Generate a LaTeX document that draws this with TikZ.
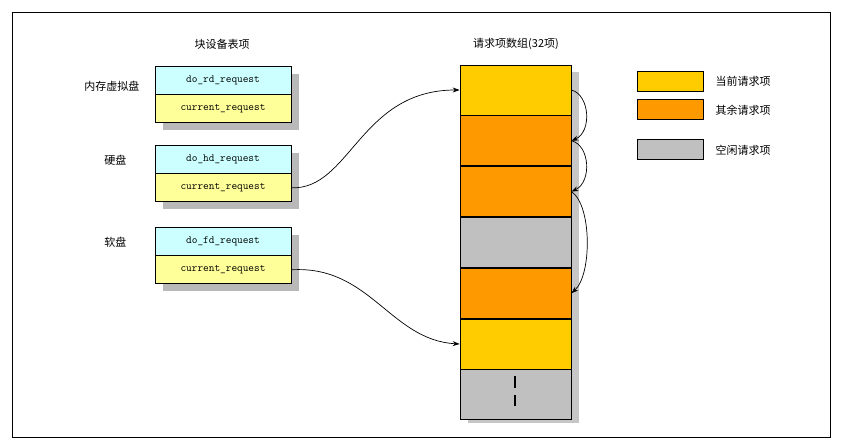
\documentclass[tikz,border=0pt]{standalone}
\usepackage{fontspec}
\newfontfamily\cjk{Noto Sans CJK SC}
\usetikzlibrary{arrows.meta,positioning}
\definecolor{cyanf}{RGB}{204,255,255}
\definecolor{yelf}{RGB}{255,255,153}
\definecolor{curf}{RGB}{255,204,0}
\definecolor{othf}{RGB}{255,153,0}
\definecolor{idlf}{RGB}{192,192,192}
\begin{document}
\begin{tikzpicture}[x=1pt,y=-1pt,
  cell/.style={draw=black,line width=0.8pt,minimum width=136pt,minimum height=28pt,inner sep=0pt,font=\ttfamily\fontsize{11}{11}\selectfont},
  arr/.style={draw=black,line width=0.8pt,minimum width=111pt,minimum height=50pt,inner sep=0pt},
  leg/.style={draw=black,line width=0.6pt,minimum width=66pt,minimum height=20pt,inner sep=0pt},
  lbl/.style={font=\cjk\fontsize{11}{11}\selectfont},
  con/.style={line width=0.7pt,-{Stealth[length=7pt,width=5pt]}}]
\useasboundingbox (0,0) rectangle (842,446);
\fill[white] (0,0) rectangle (842,446);
\draw[line width=0.8pt] (12,12) rectangle (830,437);
% shadows
\foreach \y in {66,145,227}{\fill[gray!55] (163,\y+8) rectangle (299,\y+64);}
\fill[gray!45] (468,72) rectangle (579,423);
% left table
\node[lbl] at (222,44) {块设备表项};
\node[cell,fill=cyanf] (rd) at (223,80) {do\_rd\_request};
\node[cell,fill=yelf,below=0pt of rd] (rdc) {current\_request};
\node[cell,fill=cyanf] (hd) at (223,159) {do\_hd\_request};
\node[cell,fill=yelf,below=0pt of hd] (hdc) {current\_request};
\node[cell,fill=cyanf] (fd) at (223,241) {do\_fd\_request};
\node[cell,fill=yelf,below=0pt of fd] (fdc) {current\_request};
\node[lbl,anchor=east] (l1) at (143,86) {内存虚拟盘};
\node[lbl,anchor=east] (l2) at (130,160) {硬盘};
\node[lbl,anchor=east] (l3) at (130,242) {软盘};
% array
\node[lbl] at (516,44) {请求项数组(32项)};
\node[arr,fill=curf] (a1) at (515.5,90) {};
\node[arr,fill=othf,below=0pt of a1] (a2) {};
\node[arr,fill=othf,below=0pt of a2] (a3) {};
\node[arr,fill=idlf,below=0pt of a3] (a4) {};
\node[arr,fill=othf,below=0pt of a4] (a5) {};
\node[arr,fill=curf,below=0pt of a5] (a6) {};
\node[arr,fill=idlf,below=0pt of a6] (a7) {};
\draw[line width=1.5pt] (515,376) -- (515,388) (515,395) -- (515,406);
% legend
\node[leg,fill=curf] (g1) at (670,81) {};
\node[leg,fill=othf] (g2) at (670,109) {};
\node[leg,fill=idlf] (g3) at (670,149) {};
\node[lbl,anchor=west] at (712,81) {当前请求项};
\node[lbl,anchor=west] at (712,110) {其余请求项};
\node[lbl,anchor=west] at (712,150) {空闲请求项};
% connectors
\draw[con] (hdc.east) .. controls (350,190) and (360,90) .. (a1.west);
\draw[con] (fdc.east) .. controls (370,265) and (390,340) .. (a6.west);
\draw[con] (a1.east) .. controls (590,95) and (592,132) .. (a2.east);
\draw[con] (a2.east) .. controls (590,145) and (592,182) .. (a3.east);
\draw[con] (a3.east) .. controls (592,205) and (592,275) .. (a5.east);
\end{tikzpicture}
\end{document}
